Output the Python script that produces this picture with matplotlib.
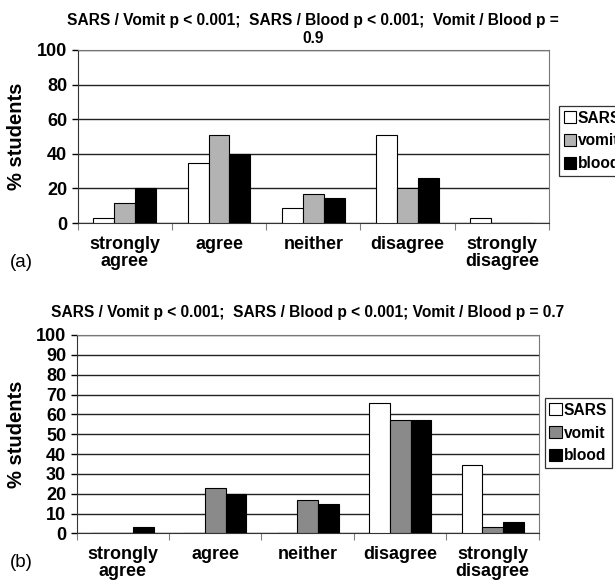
import matplotlib
matplotlib.use("Agg")
import matplotlib.pyplot as plt
import numpy as np

plt.rcParams["font.family"] = ["Liberation Sans", "DejaVu Sans"]

# Data
categories = ["strongly\nagree", "agree", "neither", "disagree", "strongly\ndisagree"]
series = ["SARS", "vomit", "blood"]

sars_a = [3, 34.5, 8.5, 51, 3]
vomit_a = [11.5, 51, 17, 20, 0]
blood_a = [20, 40, 14.5, 26, 0]

sars_b = [0, 0, 0, 65.7, 34.4]
vomit_b = [0, 22.7, 16.8, 57, 3]
blood_b = [3, 20, 14.6, 57, 5.8]

title_a = "SARS / Vomit p < 0.001;  SARS / Blood p < 0.001;  Vomit / Blood p =\n0.9"
title_b = "SARS / Vomit p < 0.001;  SARS / Blood p < 0.001; Vomit / Blood p = 0.7"


def draw_panel(ax, values, gray, yticks, title, title_pad,
               panel_label, label_y, legend_box):
    x = np.arange(len(categories))
    width = 0.222
    colors = ["white", gray, "black"]
    for i, (name, vals) in enumerate(zip(series, values)):
        ax.bar(x + (i - 1) * width, vals, width, color=colors[i],
               edgecolor="black", linewidth=0.8, label=name, zorder=3)

    ax.set_xlim(-0.5, len(categories) - 0.5)
    ax.set_ylim(0, 100)
    ax.set_yticks(yticks)
    ax.tick_params(axis="y", labelsize=13, length=4, width=1, pad=3.5)
    for lbl in ax.get_yticklabels():
        lbl.set_fontweight("bold")

    # category boundaries as major ticks, labels on minor ticks
    ax.set_xticks(np.arange(len(categories) + 1) - 0.5)
    ax.set_xticklabels([])
    ax.set_xticks(x, minor=True)
    ax.set_xticklabels(categories, minor=True, fontsize=13, fontweight="bold",
                       linespacing=1.05)
    ax.tick_params(axis="x", which="major", length=5, width=0.8, color="gray")
    ax.tick_params(axis="x", which="minor", length=0, pad=9)

    ax.yaxis.grid(True, color="#222222", linewidth=1.0, zorder=0)
    ax.set_axisbelow(True)
    for side in ["top", "right"]:
        ax.spines[side].set_color("#777777")
    ax.spines["left"].set_color("#333333")
    ax.spines["bottom"].set_color("#333333")

    ax.set_ylabel("% students", fontsize=14.5, fontweight="bold")
    ax.yaxis.set_label_coords(-0.11, 0.5)
    ax.set_title(title, fontsize=11.2, fontweight="bold", pad=title_pad,
                 linespacing=1.25)
    ax.text(-0.119, label_y, panel_label, transform=ax.transAxes, fontsize=13.5,
            ha="center", va="center")

    leg = ax.legend(loc="upper left", bbox_to_anchor=legend_box, fontsize=11.2,
                    frameon=True, fancybox=False, edgecolor="black",
                    handlelength=0.8, handleheight=0.8, handletextpad=0.12,
                    borderpad=0.3, labelspacing=0.5, borderaxespad=0)
    leg.get_frame().set_linewidth(0.9)
    for t in leg.get_texts():
        t.set_fontweight("bold")


fig = plt.figure(figsize=(6.15, 5.82), dpi=100)

ax_a = fig.add_axes([0.1262, 0.6168, 0.7665, 0.2973])
draw_panel(ax_a, [sars_a, vomit_a, blood_a], "#b3b3b3", np.arange(0, 101, 20),
           title_a, 5, "(a)", -0.231, (1.021, 0.676))

ax_b = fig.add_axes([0.1244, 0.0836, 0.7520, 0.3408])
draw_panel(ax_b, [sars_b, vomit_b, blood_b], "#8a8a8a", np.arange(0, 101, 10),
           title_b, 13, "(b)", -0.145, (1.012, 0.682))

fig.savefig("out.png", dpi=100)
